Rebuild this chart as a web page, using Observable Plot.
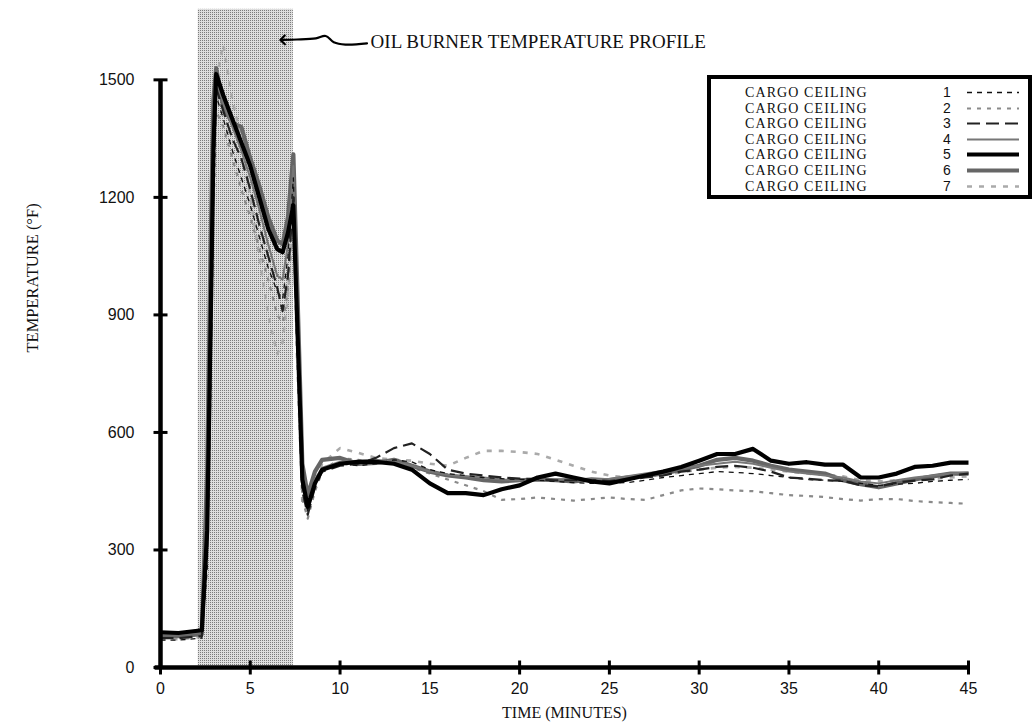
<!DOCTYPE html>
<html>
<head>
<meta charset="utf-8">
<script src="https://cdn.jsdelivr.net/npm/d3@7"></script>
<script src="https://cdn.jsdelivr.net/npm/@observablehq/plot@0.6"></script>
<style>
  body { margin: 0; background: #fff; }
  #wrap { position: relative; width: 1034px; height: 727px; overflow: hidden; }
  #legend {
    position: absolute; left: 707px; top: 75px; width: 317px; height: 116px;
    border: 4px solid #000; background: #fff; box-sizing: content-box;
  }
  .row { position: absolute; left: 0; height: 15.6px; width: 317px; }
  .row .lab { position: absolute; left: 34px; top: 0; font-family: "Liberation Serif", "DejaVu Serif", serif; font-size: 14px; letter-spacing: 1.1px; line-height: 15.6px; color: #111; white-space: nowrap; }
  .row .num { position: absolute; left: 232px; top: 0; font-family: "Liberation Sans", Arial, sans-serif; font-size: 14px; line-height: 15.6px; color: #111; }
  .row svg { position: absolute; left: 254px; top: 2px; }
</style>
</head>
<body>
<div id="wrap"><div id="legend"></div></div>
<script>
// ---- data (minutes, °F) ----
const time = [0, 1, 2.3, 2.6, 2.8, 2.95, 3.1, 3.5, 4, 4.5, 5, 5.5, 6, 6.5, 6.8, 7.1, 7.4, 7.6, 7.9, 8.2, 8.6, 9,
  10, 11, 12, 13, 14, 15, 16, 17, 18, 19, 20, 21, 22, 23, 24, 25, 26, 27, 28, 29,
  30, 31, 32, 33, 34, 35, 36, 37, 38, 39, 40, 41, 42, 43, 44, 45];

const ceiling1 = [70, 70, 75, 250, 700, 1200, 1460, 1400, 1320, 1250, 1180, 1100, 1020, 960, 940, 1050, 1250, 900, 460, 400, 470, 505,
  520, 515, 520, 530, 525, 505, 495, 490, 485, 482, 480, 478, 475, 472, 470, 470, 472, 478, 485, 490,
  495, 500, 498, 495, 490, 485, 480, 478, 475, 470, 465, 468, 470, 475, 478, 480];
const ceiling2 = [78, 78, 82, 280, 750, 1150, 1420, 1380, 1300, 1220, 1150, 1070, 990, 900, 880, 960, 1180, 850, 430, 380, 450, 500,
  535, 530, 525, 520, 510, 495, 480, 465, 450, 428, 430, 434, 430, 426, 430, 434, 430, 428, 440, 452,
  457, 455, 452, 450, 445, 440, 438, 435, 430, 426, 430, 430, 425, 422, 420, 418];
const ceiling3 = [75, 75, 80, 300, 800, 1250, 1480, 1420, 1350, 1300, 1220, 1130, 1050, 970, 910, 1000, 1200, 850, 450, 390, 460, 500,
  515, 520, 535, 560, 572, 545, 505, 495, 490, 485, 482, 480, 478, 478, 478, 476, 480, 485, 490, 500,
  505, 512, 515, 510, 500, 485, 482, 478, 477, 465, 462, 472, 477, 480, 490, 495];
const ceiling4 = [85, 85, 90, 400, 1000, 1380, 1500, 1440, 1380, 1320, 1250, 1170, 1080, 1000, 990, 1080, 1280, 950, 500, 420, 480, 510,
  525, 528, 530, 525, 515, 500, 492, 488, 485, 480, 478, 478, 480, 482, 480, 482, 488, 495, 502, 508,
  515, 520, 525, 520, 510, 500, 495, 490, 485, 475, 470, 478, 485, 490, 495, 498];
const ceiling5 = [90, 88, 95, 350, 900, 1330, 1515, 1460, 1400, 1340, 1280, 1200, 1120, 1068, 1060, 1110, 1180, 900, 480, 410, 470, 505,
  520, 525, 525, 520, 505, 470, 445, 445, 440, 455, 465, 485, 495, 485, 475, 470, 480, 490, 500, 512,
  528, 545, 545, 558, 528, 520, 524, 518, 518, 485, 485, 495, 512, 515, 523, 523];
const ceiling6 = [80, 80, 85, 500, 1100, 1450, 1530, 1430, 1390, 1380, 1300, 1230, 1150, 1090, 1080, 1150, 1310, 1000, 520, 440, 500, 530,
  535, 520, 522, 530, 515, 500, 490, 485, 478, 475, 478, 480, 478, 475, 480, 478, 485, 490, 495, 505,
  515, 530, 535, 528, 515, 505, 500, 495, 478, 468, 460, 470, 480, 488, 495, 495];
const ceiling7 = [72, 72, 78, 300, 850, 1300, 1500, 1590, 1450, 1350, 1200, 1050, 900, 800, 830, 950, 1150, 800, 420, 400, 470, 520,
  560, 548, 535, 530, 528, 520, 515, 535, 553, 553, 550, 545, 530, 515, 500, 490, 485, 488, 492, 498,
  505, 510, 512, 510, 505, 500, 495, 492, 488, 478, 475, 478, 480, 482, 485, 488];

const seriesIds = [1, 2, 3, 4, 5, 6, 7];
const seriesLabel = "CARGO CEILING";
const xTicks = [0, 5, 10, 15, 20, 25, 30, 35, 40, 45];
const yTicks = [0, 300, 600, 900, 1200, 1500];
const burnerStart = 2.1, burnerEnd = 7.4, burnerTop = 1680;
const annotationText = "OIL BURNER TEMPERATURE PROFILE";
const annotationAt = {x: 11.7, y: 1598};
// wavy leader of the annotation arrow, from its tail to its tip (minutes, °F)
const leaderX = [11.5, 10.3, 9.65, 9.2, 8.65, 7.6, 6.8];
const leaderY = [1593, 1590, 1596, 1612, 1606, 1603, 1602];
const xTitle = "TIME (MINUTES)";
const yTitle = "TEMPERATURE (°F)";

// ---- build table ----
const values = {1: ceiling1, 2: ceiling2, 3: ceiling3, 4: ceiling4, 5: ceiling5, 6: ceiling6, 7: ceiling7};
const rows = seriesIds.flatMap(id => time.map((t, i) => ({id, t, v: values[id][i]})));
const leader = leaderX.map((x, i) => ({x, y: leaderY[i]}));
const styles = {
  1: {stroke: "#111", strokeWidth: 1.3, strokeDasharray: "5,5"},
  2: {stroke: "#8a8a8a", strokeWidth: 2.2, strokeDasharray: "4,6"},
  3: {stroke: "#222", strokeWidth: 2.2, strokeDasharray: "13,6"},
  4: {stroke: "#777", strokeWidth: 2, strokeDasharray: null},
  5: {stroke: "#000", strokeWidth: 4.2, strokeDasharray: null},
  6: {stroke: "#666", strokeWidth: 4.2, strokeDasharray: null},
  7: {stroke: "#aaa", strokeWidth: 2.6, strokeDasharray: "5,7"}
};
const drawOrder = [7, 2, 6, 4, 1, 3, 5];

const hTick = {draw(ctx, size) { const r = Math.sqrt(size / Math.PI); ctx.moveTo(-r, 0); ctx.lineTo(r, 0); }};
const vTick = {draw(ctx, size) { const r = Math.sqrt(size / Math.PI); ctx.moveTo(0, -r); ctx.lineTo(0, r); }};

const serif = "'Liberation Serif', 'DejaVu Serif', serif";
const sans = "'Liberation Sans', Arial, sans-serif";

const chart = Plot.plot({
  width: 1034,
  height: 727,
  marginLeft: 160,
  marginRight: 66,
  marginTop: 1,
  marginBottom: 60,
  x: {domain: [0, 45], axis: null},
  y: {domain: [0, 1700], axis: null},
  style: {background: "transparent", overflow: "visible"},
  marks: [
    Plot.rect([{x1: burnerStart, x2: burnerEnd, y1: 0, y2: burnerTop}], {x1: "x1", x2: "x2", y1: "y1", y2: "y2", fill: "#c8c8c8"}),
    ...drawOrder.map(id => Plot.line(rows.filter(d => d.id === id), {
      x: "t", y: "v", stroke: styles[id].stroke, strokeWidth: styles[id].strokeWidth,
      strokeDasharray: styles[id].strokeDasharray || undefined, strokeLinejoin: "round", strokeLinecap: "butt"
    })),
    // axes
    Plot.ruleX([0], {y1: 0, y2: 1500, stroke: "#000", strokeWidth: 4.5}),
    Plot.ruleY([0], {x1: -0.3, x2: 45, stroke: "#000", strokeWidth: 4.5}),
    Plot.dot(yTicks, {x: 0, y: d => d, symbol: hTick, r: 7, fill: "none", stroke: "#000", strokeWidth: 3}),
    Plot.dot(xTicks, {x: d => d, y: 0, symbol: vTick, r: 7, fill: "none", stroke: "#000", strokeWidth: 3}),
    Plot.text(yTicks, {x: 0, y: d => d, text: d => String(d), dx: -26, textAnchor: "end", fontSize: 16, fontFamily: sans, fill: "#111"}),
    Plot.text(xTicks, {x: d => d, y: 0, text: d => String(d), dy: 21, fontSize: 16, fontFamily: sans, fill: "#111"}),
    Plot.text([xTitle], {frameAnchor: "bottom", dy: 50, fontSize: 16, fontFamily: serif, fill: "#111"}),
    Plot.text([yTitle], {frameAnchor: "left", dx: -128, dy: 18, rotate: -90, fontSize: 16.5, fontFamily: serif, fill: "#111"}),
    // annotation
    Plot.text([annotationAt], {x: "x", y: "y", text: () => annotationText, textAnchor: "start", fontSize: 19, fontFamily: serif, fill: "#111"}),
    Plot.line(leader, {x: "x", y: "y", curve: "catmull-rom", stroke: "#000", strokeWidth: 2.2, markerEnd: "arrow"})
  ]
});

// halftone pattern for burner band
const svgSel = d3.select(chart);
const defs = svgSel.insert("defs", ":first-child");
const pat = defs.append("pattern").attr("id", "halftone").attr("width", 2).attr("height", 2).attr("patternUnits", "userSpaceOnUse");
pat.append("rect").attr("width", 2).attr("height", 2).attr("fill", "#dedede");
pat.append("rect").attr("width", 1).attr("height", 1).attr("fill", "#7c7c7c");
svgSel.selectAll('g[aria-label="rect"] rect').attr("fill", "url(#halftone)");

document.getElementById("wrap").prepend(chart);
chart.style.position = "absolute";
chart.style.left = "0";
chart.style.top = "0";

// legend
const legend = d3.select("#legend");
seriesIds.forEach((id, i) => {
  const r = legend.append("div").attr("class", "row").style("top", (6 + i * 15.6) + "px");
  r.append("span").attr("class", "lab").text(seriesLabel);
  r.append("span").attr("class", "num").text(String(id));
  const s = r.append("svg").attr("width", 56).attr("height", 11);
  const st = styles[id];
  s.append("line").attr("x1", 2).attr("x2", 54).attr("y1", 5.5).attr("y2", 5.5)
    .attr("stroke", st.stroke).attr("stroke-width", st.strokeWidth)
    .attr("stroke-dasharray", st.strokeDasharray || null);
});
</script>
</body>
</html>
